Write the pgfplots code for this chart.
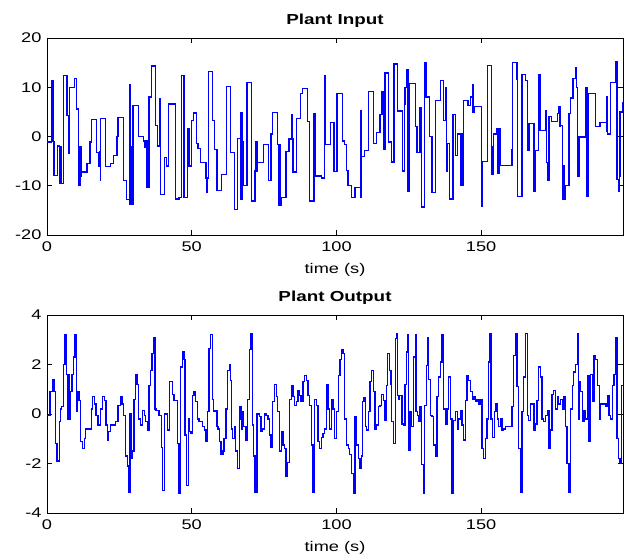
\documentclass[border=0pt]{standalone}
\usepackage{fontspec}
\setmainfont{Liberation Sans}[FakeStretch=1.3]
\usepackage{pgfplots}
\pgfplotsset{compat=1.18}

\pgfplotsset{
  matstyle/.style={
    scale only axis,
    width=576pt,
    xmin=0, xmax=199,
    xtick={0,50,100,150},
    axis line style={black, line width=0.8pt},
    major tick length=5pt,
    tick style={black, line width=0.8pt},
    tick align=inside,
    /pgf/number format/assume math mode=true,
    ticklabel style={font=\fontsize{14}{16}\selectfont},
    xticklabel style={yshift=-3pt},
    yticklabel style={xshift=-2pt},
    xlabel style={font=\fontsize{14}{16}\selectfont, yshift=-5pt},
    title style={font=\fontsize{14.5}{16}\selectfont\bfseries, yshift=1pt},
    xlabel={time (s)},
  },
  sig/.style={const plot, draw=blue, line width=1.3pt, no markers},
}

\begin{document}
\begin{tikzpicture}
\fill[white] (0,0) rectangle (624pt,558pt);
\path[use as bounding box] (0,0) rectangle (624pt,558pt);

% Plant input
\begin{axis}[matstyle,
  at={(47pt,520pt)}, anchor=north west,
  height=197pt,
  ymin=-20, ymax=20,
  ytick={-20,-10,0,10,20},
  title={Plant Input}]
\addplot[sig] coordinates {
(0,-1.1) (1.6,11.3) (1.8,-1) (2.0,11.3) (2.2,-1) (2.4,-7.9)
(3.7,-1.9) (4.4,-9.6) (4.6,-2) (4.9,-9.6) (5.7,12.4) (6.9,4.2)
(7.4,-3.4) (7.8,10) (9.5,11.8) (10.1,5.6) (10.9,-10) (11.2,-2)
(11.4,-10) (11.6,-2) (11.8,-8) (12.0,-7.2) (13.8,-5.5) (14.9,-1.1)
(15.3,3.4) (17.2,-3.3) (17.8,-6.1) (18.2,-3) (18.4,-9) (18.6,3.7)
(20.1,-6.1) (21.9,-5.5) (23.0,-3.9) (24.2,0) (24.5,3.9) (26.5,-9)
(27.4,-12.8) (28.5,10.5) (28.7,-13.8) (29.0,-2) (29.2,-13.8) (29.7,6.3)
(31.5,0) (33.4,-0.9) (33.8,-2.3) (34.2,-0.9) (34.6,-10.4) (35.2,8)
(36.1,14.3) (37.5,2.2) (38.1,-1.9) (39.0,7.6) (39.2,-11.8) (40.7,-4.3)
(41.2,-6) (41.9,6.6) (44.4,-12.7) (45.6,-12.4) (46.5,12.4) (47.3,-12.4)
(48.5,1.5) (49.1,-6) (49.9,3.2) (50.6,4.8) (51.7,-1.4) (52.2,-2.4)
(53.1,-5.3) (54.9,-8.4) (55.2,-11.4) (55.4,-8.4) (55.7,13.2) (57.2,3.2)
(57.8,-2.7) (58.7,-10.9) (60.3,-7.7) (61.9,10.2) (63.3,-3.3) (64.7,-14.8)
(65.9,-0.4) (66.8,4.8) (67.0,-12.8) (67.2,4.8) (67.4,-12.8) (67.6,-1)
(67.9,-10) (69.1,11) (70.7,-13.1) (71.9,-7) (72.2,-1) (72.5,-7)
(72.8,-5.3) (74.9,-1.6) (76.5,-9) (77.4,0.5) (78.0,4.9) (79.7,-1.6)
(80.0,-14) (80.3,-1.6) (80.6,-14) (80.9,-12.4) (82.6,-3.1) (83.6,-0.5)
(84.4,4.4) (84.7,-0.5) (85.0,-7.2) (86.1,3.7) (87.6,8.8) (88.2,9.8)
(89.9,3) (90.7,-13.1) (92.2,4.6) (92.7,-8) (94.8,-8.4) (95.9,12.4)
(96.2,-1.6) (98.0,2.9) (99.2,-7.1) (100.2,8.8) (102.1,-0.9) (102.9,-1.6)
(103.5,-6.9) (104.0,-10) (105.2,-12.4) (106.4,-10.4) (108.3,5.2) (108.5,-12.4)
(108.7,-4.1) (109.8,-2.9) (111.0,9.2) (112.7,-1.4) (113.9,0.8) (115.0,4.4)
(115.6,9.2) (115.8,4.4) (116.0,9.2) (116.2,-2.6) (116.8,12.9) (117.9,-1.1)
(119.1,-5.2) (119.9,14.7) (121.2,5.2) (122.8,-7) (123.4,6.6) (123.7,10)
(124.3,13.6) (124.5,-11.1) (124.7,13.6) (124.9,-11.1) (125.2,10.7) (127.2,2)
(127.8,-3.3) (128.9,5.9) (129.5,-14.3) (130.3,15) (130.6,8) (130.8,15)
(131.0,8) (132.2,0) (133.0,-11.4) (134.1,7.3) (135.9,11.4) (137.0,3.2)
(137.6,10) (137.9,-7) (138.2,-1.4) (139.1,-12.7) (140.3,4.4) (141.1,-3.8)
(141.9,0.5) (142.8,-10) (143.1,0.5) (143.4,-10) (143.8,7.3) (145.4,6.3)
(146.3,8) (146.9,10.5) (147.2,4.9) (147.7,6.1) (150.2,-14.1) (150.5,-5.1)
(152.2,14.4) (153.5,-7.7) (153.8,-2) (154.0,-7.7) (154.1,-3.6) (154.3,0.5)
(155.4,1.5) (155.6,-7.5) (155.8,1.5) (156.0,-7.5) (156.3,1.5) (156.6,-5.9)
(160.6,-2.7) (160.9,15) (162.4,11.7) (162.5,1.5) (162.6,-12.2) (164.1,12.6)
(165.3,11.4) (165.9,2.7) (166.1,-2.9) (166.3,2.7) (166.5,-2.9) (166.8,2.7)
(168.2,-11.1) (168.7,-2.9) (169.9,12.5) (170.3,1.2) (172.2,5.2) (172.5,-5.3)
(172.8,-9) (173.4,4.1) (174.2,3) (176.3,4.6) (176.8,6.1) (177.0,2)
(177.2,6.1) (177.4,2.2) (178.0,-12.7) (178.3,-6) (178.6,-12.7) (179.2,-9.9)
(180.3,4.6) (180.9,7.8) (181.7,11.8) (182.6,13.9) (182.9,10) (183.2,-8)
(183.8,0) (184.4,-0.1) (186.1,10) (186.4,-12.1) (186.6,10) (186.8,-12.1)
(186.9,8.8) (189.6,2) (191.1,2.9) (193.4,8) (193.5,1) (193.6,0.5)
(194.8,11) (196.5,15.1) (196.9,-8.7) (197.4,-11.1) (197.7,-8) (198.0,5)
(198.8,6.9) (199.6,8.6) (200,8.6)
};
\end{axis}

% Plant output
\begin{axis}[matstyle,
  at={(47pt,243pt)}, anchor=north west,
  height=198pt,
  ymin=-4, ymax=4,
  ytick={-4,-2,0,2,4},
  title={Plant Output}]
\addplot[sig] coordinates {
(0,-0.05) (1.0,0.9) (1.85,1.4) (2.4,0.9) (3.0,-1.2) (3.5,-1.9)
(4.2,-0.3) (4.6,0.2) (5.1,0.3) (5.7,2.0) (6.25,3.2) (6.8,1.6)
(7.2,-0.2) (7.5,1.6) (7.7,-0.2) (8.0,0.9) (8.6,1.6) (9.1,2.3)
(9.7,3.2) (10.3,0.1) (10.6,0.9) (11.1,0.55) (11.6,-1.1) (12.3,-1.4)
(13.0,-1.0) (13.4,-0.6) (15.3,0.2) (15.7,0.7) (16.4,0.4) (16.9,-0.05)
(17.6,-0.45) (18.4,0.2) (19.2,0.7) (19.9,0.55) (20.4,-0.45) (20.8,-1.05)
(21.3,-0.7) (21.9,-0.45) (23.6,-0.3) (24.5,0.35) (25.3,0.7) (25.9,0.4)
(26.5,-0.05) (27.1,-1.7) (27.7,-2.1) (28.2,-3.15) (28.7,0) (29.2,-1.8)
(29.6,-1.5) (30.1,0.6) (30.6,1.6) (31.1,1.2) (31.7,-0.2) (32.3,-0.45)
(32.9,0.15) (33.6,-0.05) (34.0,-0.3) (34.6,-0.65) (35.2,1.15) (35.8,1.75)
(36.3,2.45) (36.9,3.1) (37.3,0.2) (37.7,0.15) (38.7,-0.05) (39.6,-1.35)
(40.0,-3.1) (40.7,0) (41.6,-0.65) (42.4,1.3) (43.3,0.8) (43.9,0.55)
(45.0,-1.2) (45.6,-3.2) (46.2,1.9) (46.8,2.5) (47.3,2.2) (47.7,-0.85)
(48.1,-2.9) (48.8,-0.2) (49.3,-0.7) (49.8,-0.8) (50.2,0.75) (50.8,0.9)
(51.4,0.5) (52.0,-0.2) (52.5,-0.3) (53.7,-0.5) (54.3,-0.65) (54.9,-1.1)
(55.4,0.1) (56.0,2.65) (56.6,3.2) (57.2,0.6) (57.5,0.1) (58.0,0.15)
(58.7,-0.5) (59.1,-0.6) (59.6,-1.1) (60.1,-1.65) (60.8,-1.5) (61.2,-1.0)
(61.8,0.2) (62.4,1.75) (63.0,2.0) (63.3,1.35) (63.8,-0.6) (64.2,-1.0)
(64.7,-0.5) (65.2,-1.5) (65.9,-2.2) (66.4,0.3) (67.0,-0.2) (67.2,-0.6)
(67.5,0.1) (67.9,-0.5) (68.7,-1.05) (69.3,0.6) (69.9,2.6) (70.5,3.25)
(70.9,-0.45) (71.4,-1.7) (71.9,-3.15) (72.6,0) (73.4,-0.1) (73.9,-0.7)
(74.5,-0.6) (75.1,0) (75.7,-0.05) (76.3,-0.2) (76.8,-0.85) (77.4,-1.35)
(78.0,0.5) (78.6,1.2) (79.2,0.7) (79.7,0.1) (80.3,-1.5) (80.9,-0.7)
(81.5,-1.25) (82.0,-1.4) (82.6,-2.5) (83.2,-1.95) (83.8,0.6) (84.4,1.15)
(85.0,0.7) (85.5,0.35) (86.1,0.5) (86.7,0.95) (87.3,0.75) (87.8,0.5)
(88.4,1.3) (89.0,1.55) (89.6,1.35) (90.2,0.75) (90.8,0.35) (91.3,-1.25)
(91.9,-3.15) (92.5,0.6) (93.1,0.35) (93.6,-1.1) (94.2,-1.4) (94.8,-0.95)
(95.4,-0.8) (95.9,-0.6) (96.5,1.2) (97.1,0.2) (97.7,-0.6) (98.3,0.6)
(98.8,0.2) (99.4,-1.0) (100.0,0.1) (100.6,1.55) (101.2,2.2) (101.7,2.6)
(102.3,2.45) (102.9,-0.2) (103.5,-1.25) (104.1,-1.4) (104.6,-1.65) (105.2,-2.4)
(105.8,-3.2) (106.4,-0.1) (106.9,-1.25) (107.5,-1.8) (108.1,-2.2) (108.7,-1.7)
(109.0,0.5) (109.5,0.65) (110.0,-0.5) (110.4,-0.65) (111.0,0.1) (111.6,1.3)
(112.2,1.75) (112.7,0.9) (113.3,-0.6) (113.9,-0.45) (114.5,0.3) (115.0,0.35)
(115.6,0.8) (116.2,0.55) (116.8,-0.25) (117.4,1.15) (117.6,2.45) (118.3,1.75)
(118.8,1.2) (119.1,-0.3) (119.7,-1.2) (120.3,3.05) (120.8,3.25) (121.2,0.75)
(121.5,0.6) (121.9,0.75) (122.6,-0.4) (123.1,-0.45) (123.7,1.2) (124.3,2.5)
(124.7,3.2) (124.9,-1.45) (125.2,0.1) (125.3,-1.45) (125.5,0.1) (126.0,-0.5)
(126.6,2.3) (127.2,3.2) (127.5,0.1) (128.0,-0.05) (128.5,-0.3) (128.9,0.3)
(129.5,-2.05) (130.1,-3.2) (130.4,0.35) (131.0,1.95) (131.5,3.1) (131.9,1.4)
(132.4,-0.05) (133.0,-0.1) (133.6,-1.25) (134.1,-1.7) (134.7,0.7) (135.3,1.5)
(135.9,2.1) (136.5,3.2) (137.0,0.2) (137.6,-0.4) (138.2,0.2) (138.8,1.5)
(139.4,-0.2) (139.9,-3.2) (140.5,-0.25) (141.1,0.1) (141.7,-0.6) (142.2,-0.2)
(142.8,0.15) (143.4,-0.45) (144.0,-1.05) (144.6,0.55) (145.1,1.55) (145.7,1.35)
(146.3,0.9) (146.9,0.6) (147.5,0.7) (148.0,0.5) (148.6,0.6) (149.2,0.4)
(149.8,0.6) (150.3,-1.4) (150.9,-1.8) (151.4,-1.0) (152.0,-0.2) (152.5,2.1)
(152.9,3.25) (153.4,-0.2) (153.8,-0.95) (154.5,0.1) (155.1,0.4) (155.7,-0.2)
(156.1,-0.5) (156.6,-0.2) (157.2,-0.65) (157.8,-0.6) (158.3,-0.5) (160.6,0.3)
(161.2,2.35) (161.8,3.25) (162.4,1.1) (163.0,-1.4) (163.5,-3.15) (164.1,0.1)
(164.7,1.5) (165.3,3.25) (165.9,-0.05) (166.4,-0.25) (167.0,0.4) (168.2,-0.65)
(168.7,-0.4) (169.3,0.55) (169.9,1.9) (170.5,1.5) (171.0,-0.2) (171.6,-0.3)
(172.2,-0.05) (172.8,0.15) (173.4,-1.4) (173.9,-0.65) (174.5,0.8) (175.1,0.95)
(175.7,0.2) (176.3,0.7) (176.8,0.4) (177.4,0.6) (178.0,0.2) (178.6,0.7)
(179.2,-0.5) (179.7,-2.0) (180.3,-3.15) (180.9,0.2) (181.5,1.15) (182.0,1.7)
(182.6,2.0) (183.2,3.25) (183.6,-0.2) (183.9,1.3) (184.4,0.9) (185.0,-0.3)
(185.5,0.15) (186.1,-0.2) (186.7,1.55) (187.3,-1.1) (187.8,1.6) (188.4,0.5)
(189.0,2.35) (189.6,2.2) (190.2,1.15) (190.8,-0.2) (191.3,0.4) (193.1,0.3)
(193.6,0.75) (194.2,-0.05) (194.8,-0.2) (195.4,1.15) (195.9,1.6) (196.5,3.1)
(196.9,-1.0) (197.4,-1.8) (198.0,-2.0) (198.5,1.15) (199.2,1.75) (199.6,2.1)
(200,2.1)
};
\end{axis}
\end{tikzpicture}
\end{document}
